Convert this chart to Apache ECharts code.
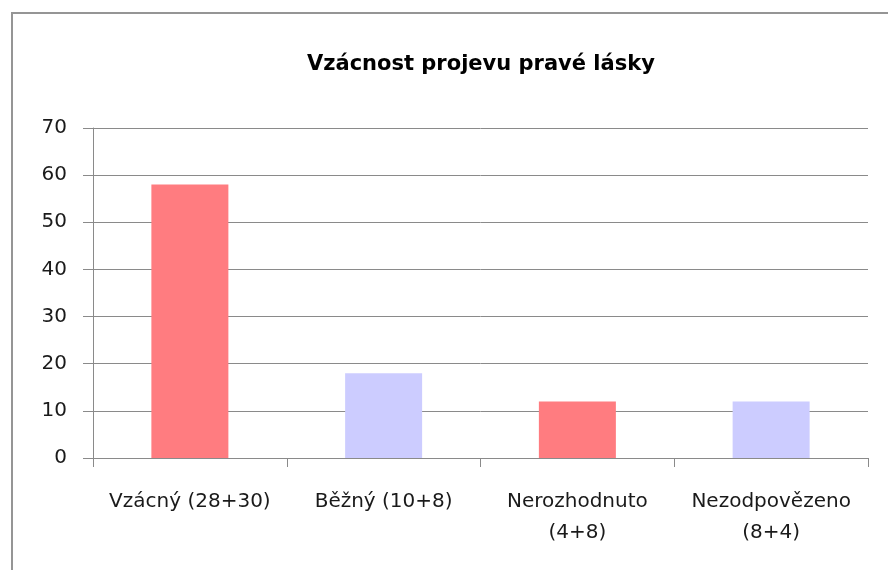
<!DOCTYPE html>
<html>
<head>
<meta charset="utf-8">
<script src="https://cdn.jsdelivr.net/npm/echarts@6/dist/echarts.min.js"></script>
<style>html,body{margin:0;padding:0;background:#fff}#c{width:888px;height:570px}</style>
</head>
<body>
<div id="c"></div>
<script>
const title = 'Vzácnost projevu pravé lásky';
const categories = ['Vzácný (28+30)', 'Běžný (10+8)', 'Nerozhodnuto\n(4+8)', 'Nezodpovězeno\n(8+4)'];
const values = [58, 18, 12, 12];
const barColors = ['#FF7C80', '#CCCCFF', '#FF7C80', '#CCCCFF'];
const yMin = 0, yMax = 70, yStep = 10;

const chart = echarts.init(document.getElementById('c'), null, {renderer: 'canvas'});
const FONT = 'DejaVu Sans';
chart.setOption({
  animation: false,
  backgroundColor: '#ffffff',
  graphic: [{
    type: 'rect', shape: {x: 12, y: 13, width: 900, height: 600},
    style: {fill: 'none', stroke: '#959595', lineWidth: 2}, z: -1
  }],
  title: {
    text: title, left: 302, top: 49,
    textStyle: {fontFamily: FONT, fontWeight: 'bold', fontSize: 21, color: '#000'}
  },
  grid: {left: 93, right: 20, top: 128, bottom: 112, containLabel: false},
  xAxis: {
    type: 'category', data: categories,
    axisLine: {lineStyle: {color: '#8a8a8a', width: 1}},
    axisTick: {show: true, length: 9, lineStyle: {color: '#8a8a8a'}},
    axisLabel: {fontFamily: FONT, fontSize: 20, color: '#1a1a1a', margin: 28, lineHeight: 31, interval: 0}
  },
  yAxis: {
    type: 'value', min: yMin, max: yMax, interval: yStep,
    axisLine: {show: true, lineStyle: {color: '#8a8a8a', width: 1}},
    axisTick: {show: true, length: 10, lineStyle: {color: '#8a8a8a'}},
    splitLine: {lineStyle: {color: '#8a8a8a', width: 1}},
    axisLabel: {fontFamily: FONT, fontSize: 20, color: '#1a1a1a', margin: 26}
  },
  series: [{
    type: 'bar', data: values, barWidth: 77,
    itemStyle: {color: p => barColors[p.dataIndex]}
  }]
});
</script>
</body>
</html>
